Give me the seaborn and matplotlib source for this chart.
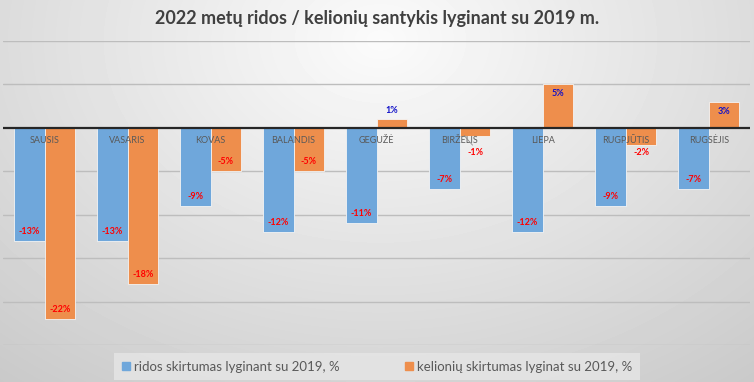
import numpy as np
import pandas as pd
import matplotlib.pyplot as plt
import seaborn as sns

# Duomenys
menesiai = ["SAUSIS", "VASARIS", "KOVAS", "BALANDIS", "GEGUŽĖ",
            "BIRŽELIS", "LIEPA", "RUGPJŪTIS", "RUGSĖJIS"]
ridos = [-13, -13, -9, -12, -11, -7, -12, -9, -7]
kelioniu = [-22, -18, -5, -5, 1, -1, 5, -2, 3]
serija_ridos = "ridos skirtumas lyginant su 2019, %"
serija_kelioniu = "kelionių skirtumas lyginat su 2019, %"

df = pd.DataFrame({
    "menuo": menesiai * 2,
    "reiksme": ridos + kelioniu,
    "serija": [serija_ridos] * len(menesiai) + [serija_kelioniu] * len(menesiai),
})

sns.set_style("white")
plt.rcParams["font.family"] = ["Lato", "DejaVu Sans"]

fig = plt.figure(figsize=(7.54, 3.82), dpi=100)

# fono gradientas
bg = fig.add_axes([0, 0, 1, 1], zorder=-10)
yy, xx = np.mgrid[0:382, 0:754]
d = np.sqrt(((xx - 380) / 520.0) ** 2 + ((yy - 40) / 380.0) ** 2)
shade = np.clip(0.985 - 0.17 * d, 0.78, 0.985)
bg.imshow(shade, cmap="gray", vmin=0, vmax=1, aspect="auto", interpolation="bilinear")
bg.axis("off")

ax = fig.add_axes([0.004, 0.097, 0.991, 0.796])
ax.set_facecolor("none")

spalvos = ["#6FA7DB", "#EE8E4C"]
sns.barplot(data=df, x="menuo", y="reiksme", hue="serija", palette=spalvos,
            width=0.74, saturation=1, ax=ax, legend=False, zorder=3,
            edgecolor="#F4F4F4", linewidth=0.6)

ax.set_ylim(-25, 10)
ax.set_xlim(-0.5, len(menesiai) - 0.5)
for yv in range(-25, 11, 5):
    if yv != 0:
        ax.axhline(yv, color="#BDBDBD", lw=1.0, zorder=1)
ax.axhline(0, color="#262626", lw=1.6, zorder=4)

for s in ax.spines.values():
    s.set_visible(False)
ax.set_xticks([])
ax.set_yticks([])
ax.set_xlabel("")
ax.set_ylabel("")

# mėnesių pavadinimai po nuline linija
for i, m in enumerate(menesiai):
    ax.text(i, -1.45, m, ha="center", va="center", fontsize=6.5, color="#595959", zorder=5)

# reikšmių etiketės
for cont in ax.containers:
    for bar in cont:
        v = bar.get_height()
        x = bar.get_x() + bar.get_width() / 2
        col = "#FF0000" if v < 0 else "#1010C8"
        if abs(v) >= 3:
            y = v + (1.1 if v < 0 else -1.1)
        elif v < 0:
            y = min(v - 0.7, -2.8)
            if v > -1.5:
                # rodyklė į mažą stulpelį
                ax.plot([x - 0.13, x - 0.03], [v + 0.1, -2.0], color="#8C8C8C",
                        lw=0.6, zorder=5)
        else:
            y = v + 1.0
        ax.text(x, y, f"{v:.0f}%", ha="center", va="center", fontsize=6.5,
                fontweight="bold", color=col, zorder=5)

fig.text(0.5, 0.952, "2022 metų ridos / kelionių santykis lyginant su 2019 m.",
         ha="center", va="center", fontsize=13, fontweight="bold", color="#404040")

handles = [plt.Rectangle((0, 0), 1, 1, color=c) for c in spalvos]
leg = fig.legend(handles, [serija_ridos, serija_kelioniu], loc="center",
                 bbox_to_anchor=(0.5, 0.04), ncol=2, frameon=True, fontsize=9.5,
                 handlelength=0.6, handleheight=0.6, handletextpad=0.3,
                 columnspacing=5.0, borderpad=0.55, fancybox=False)
leg.get_frame().set_facecolor("#E6E6E6")
leg.get_frame().set_edgecolor("none")
leg._legend_box.align = "center"
for t in leg.get_texts():
    t.set_color("#595959")

plt.savefig("out.png", dpi=100)
